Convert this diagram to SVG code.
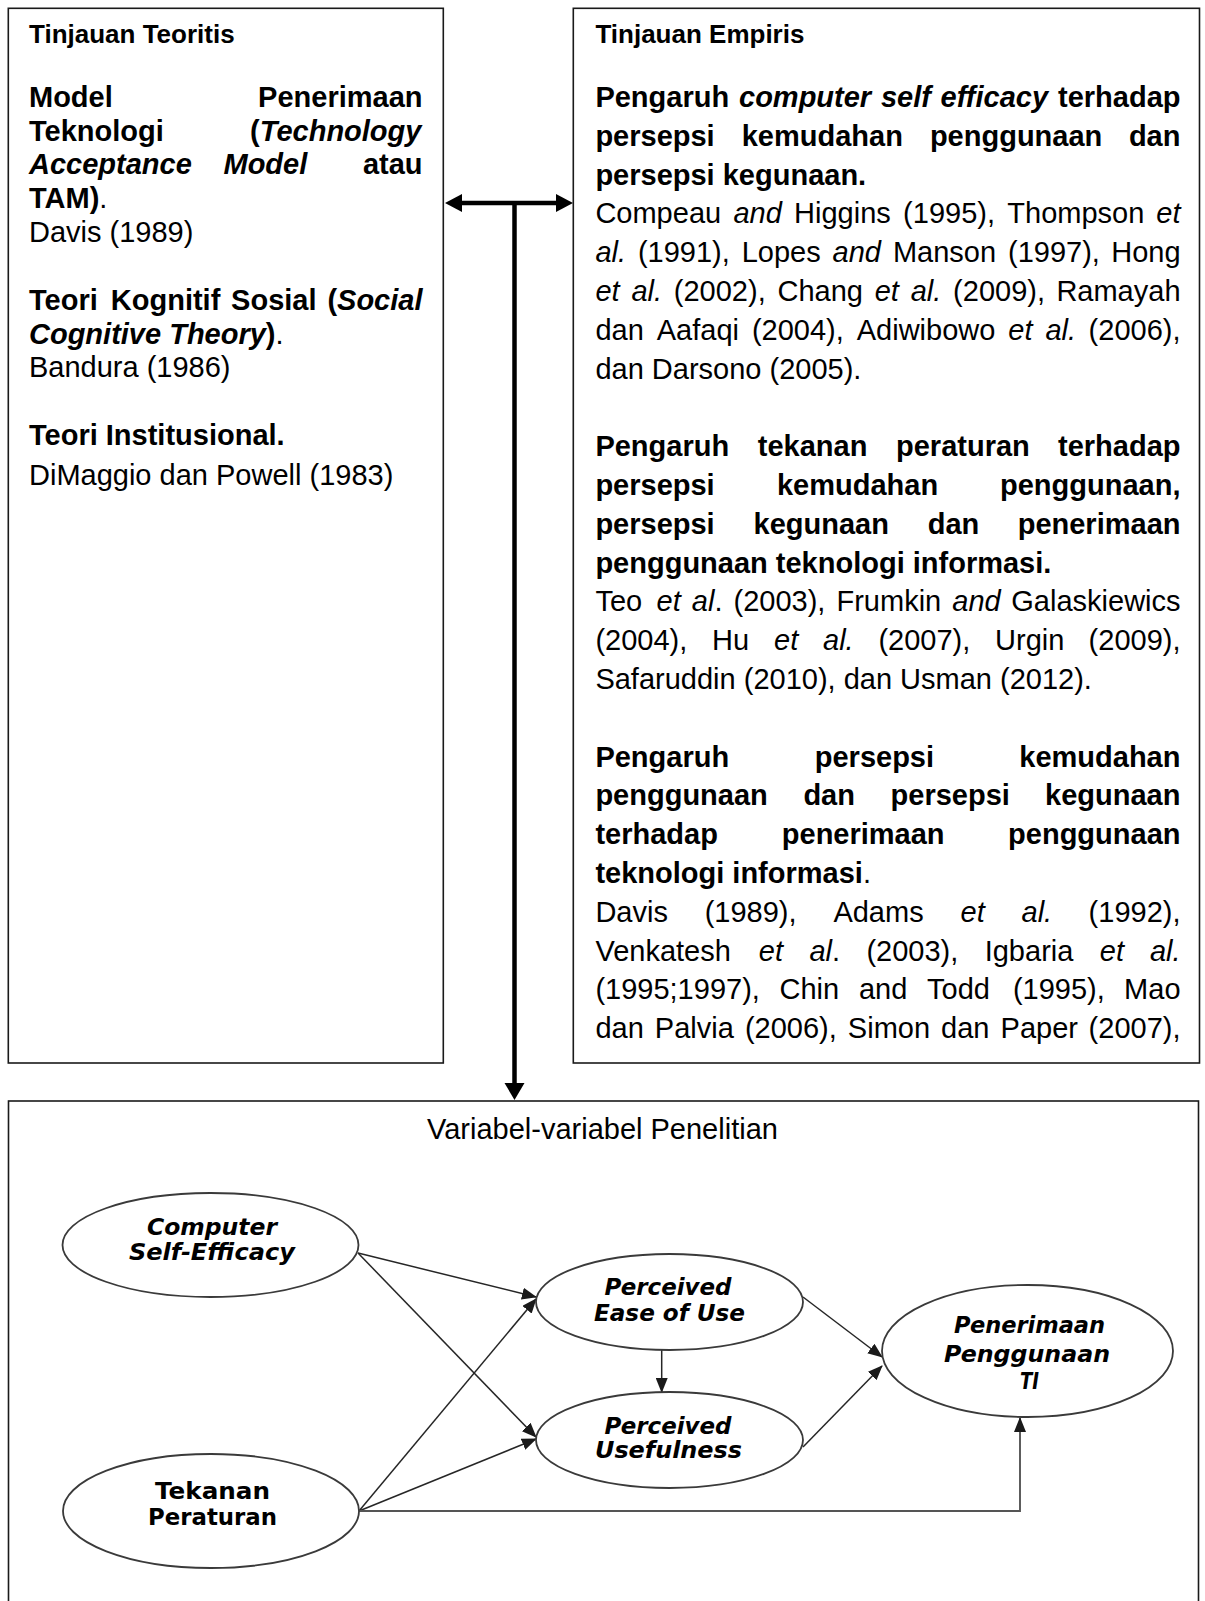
<svg xmlns="http://www.w3.org/2000/svg" width="1205" height="1601" viewBox="0 0 1205 1601">
<style>
.box{fill:#fff;stroke:#1a1a1a;stroke-width:1.6}
.t{font-family:"Liberation Sans",Arial,sans-serif;font-weight:bold;font-size:26px;fill:#000}
.b{font-family:"Liberation Sans",Arial,sans-serif;font-weight:bold;font-size:29px;fill:#000}
.r{font-family:"Liberation Sans",Arial,sans-serif;font-weight:normal;font-size:29px;fill:#000}
.i{font-style:italic}
.n{font-weight:normal}
.ell{fill:#fff;stroke:#3a3a3a;stroke-width:1.8}
.el{font-family:"DejaVu Sans",Verdana,sans-serif;font-weight:bold;font-size:22.5px;fill:#000;text-anchor:middle}
.eo{font-style:oblique}
.cn{fill:none;stroke:#262626;stroke-width:1.5}
.thick{fill:none;stroke:#000;stroke-width:4.5}
</style>
<defs>
<marker id="ah" markerUnits="userSpaceOnUse" markerWidth="15" markerHeight="12" refX="14" refY="6" orient="auto">
<path d="M0,0 L15,6 L0,12 z" fill="#1a1a1a"/>
</marker>
</defs>
<rect x="0" y="0" width="1205" height="1601" fill="#fff"/>

<g id="tinjauan-teoritis">
<rect class="box" x="8.3" y="8.3" width="435" height="1054.7"/>
<text class="t" x="29" y="42.7">Tinjauan Teoritis</text>
<text class="b" y="107"><tspan x="29">Model</tspan><tspan x="258.1">Penerimaan</tspan></text>
<text class="b" y="140.7"><tspan x="29">Teknologi</tspan><tspan x="250.1">(<tspan class="i">Technology</tspan></tspan></text>
<text class="b" y="174.4"><tspan x="29" class="i">Acceptance</tspan><tspan x="223.5" class="i">Model</tspan><tspan x="362.9">atau</tspan></text>
<text class="b" x="29" y="208.1">TAM)<tspan class="n">.</tspan></text>
<text class="r" x="29" y="241.8">Davis (1989)</text>
<text class="b" y="310"><tspan x="29">Teori</tspan><tspan x="110.8">Kognitif</tspan><tspan x="231.1">Sosial</tspan><tspan x="327.4">(<tspan class="i">Social</tspan></tspan></text>
<text class="b" x="29" y="343.7"><tspan class="i">Cognitive Theory</tspan>)<tspan class="n">.</tspan></text>
<text class="r" x="29" y="377.4">Bandura (1986)</text>
<text class="b" x="29" y="445">Teori Institusional.</text>
<text class="r" x="29" y="484.5">DiMaggio dan Powell (1983)</text>
</g>

<g id="tinjauan-empiris">
<rect class="box" x="573.3" y="8.3" width="626.2" height="1054.7"/>
<text class="t" x="595.4" y="42.7">Tinjauan Empiris</text>
<text class="b" y="107"><tspan x="595.4">Pengaruh</tspan><tspan x="739" class="i">computer</tspan><tspan x="880.9" class="i">self</tspan><tspan x="940.6" class="i">efficacy</tspan><tspan x="1058">terhadap</tspan></text>
<text class="b" y="145.8"><tspan x="595.4">persepsi</tspan><tspan x="741.7">kemudahan</tspan><tspan x="929.9">penggunaan</tspan><tspan x="1128.9">dan</tspan></text>
<text class="b" x="595.4" y="184.6">persepsi kegunaan.</text>
<text class="r" y="223.4"><tspan x="595.4">Compeau</tspan><tspan x="733.4" class="i">and</tspan><tspan x="794.1">Higgins</tspan><tspan x="903.1">(1995),</tspan><tspan x="1007.3">Thompson</tspan><tspan x="1156.3" class="i">et</tspan></text>
<text class="r" y="262.2"><tspan x="595.4" class="i">al.</tspan><tspan x="637.9">(1991),</tspan><tspan x="741.7">Lopes</tspan><tspan x="832.6" class="i">and</tspan><tspan x="892.9">Manson</tspan><tspan x="1008">(1997),</tspan><tspan x="1111.2">Hong</tspan></text>
<text class="r" y="301"><tspan x="595.4" class="i">et</tspan><tspan x="631.4" class="i">al.</tspan><tspan x="673.8">(2002),</tspan><tspan x="777.5">Chang</tspan><tspan x="874.7" class="i">et</tspan><tspan x="910.7" class="i">al.</tspan><tspan x="953.1">(2009),</tspan><tspan x="1056.4">Ramayah</tspan></text>
<text class="r" y="339.8"><tspan x="595.4">dan</tspan><tspan x="656.75">Aafaqi</tspan><tspan x="751.9">(2004),</tspan><tspan x="856.75">Adiwibowo</tspan><tspan x="1008.3" class="i">et</tspan><tspan x="1045.45" class="i">al.</tspan><tspan x="1088.6">(2006),</tspan></text>
<text class="r" x="595.4" y="378.6">dan Darsono (2005).</text>

<text class="b" y="456.2"><tspan x="595.4">Pengaruh</tspan><tspan x="757.8">tekanan</tspan><tspan x="896">peraturan</tspan><tspan x="1058">terhadap</tspan></text>
<text class="b" y="495"><tspan x="595.4">persepsi</tspan><tspan x="776.95">kemudahan</tspan><tspan x="1000">penggunaan,</tspan></text>
<text class="b" y="533.8"><tspan x="595.4">persepsi</tspan><tspan x="753.5">kegunaan</tspan><tspan x="927.7">dan</tspan><tspan x="1017.7">penerimaan</tspan></text>
<text class="b" x="595.4" y="572.6">penggunaan teknologi informasi.</text>
<text class="r" y="611.4"><tspan x="595.4">Teo</tspan><tspan x="656.5" class="i">et</tspan><tspan x="691.8" class="i">al</tspan>.<tspan x="733.5">(2003),</tspan><tspan x="836.5">Frumkin</tspan><tspan x="952.3" class="i">and</tspan><tspan x="1011.3">Galaskiewics</tspan></text>
<text class="r" y="650.2"><tspan x="595.4">(2004),</tspan><tspan x="712.1">Hu</tspan><tspan x="774" class="i">et</tspan><tspan x="823" class="i">al.</tspan><tspan x="878.4">(2007),</tspan><tspan x="995.1">Urgin</tspan><tspan x="1088.6">(2009),</tspan></text>
<text class="r" x="595.4" y="689">Safaruddin (2010), dan Usman (2012).</text>

<text class="b" y="766.6"><tspan x="595.4">Pengaruh</tspan><tspan x="814.75">persepsi</tspan><tspan x="1019.3">kemudahan</tspan></text>
<text class="b" y="805.4"><tspan x="595.4">penggunaan</tspan><tspan x="803.4">dan</tspan><tspan x="890.6">persepsi</tspan><tspan x="1045.1">kegunaan</tspan></text>
<text class="b" y="844.2"><tspan x="595.4">terhadap</tspan><tspan x="781.8">penerimaan</tspan><tspan x="1008.1">penggunaan</tspan></text>
<text class="b" x="595.4" y="883">teknologi informasi<tspan class="n">.</tspan></text>
<text class="r" y="921.8"><tspan x="595.4">Davis</tspan><tspan x="704.7">(1989),</tspan><tspan x="833.4">Adams</tspan><tspan x="960.5" class="i">et</tspan><tspan x="1021.5" class="i">al.</tspan><tspan x="1088.6">(1992),</tspan></text>
<text class="r" y="960.6"><tspan x="595.4">Venkatesh</tspan><tspan x="758.8" class="i">et</tspan><tspan x="809.4" class="i">al</tspan>.<tspan x="866.4">(2003),</tspan><tspan x="984.7">Igbaria</tspan><tspan x="1099.75" class="i">et</tspan><tspan x="1149.9" class="i">al.</tspan></text>
<text class="r" y="999.4"><tspan x="595.4">(1995;1997),</tspan><tspan x="779.5">Chin</tspan><tspan x="858.9">and</tspan><tspan x="927">Todd</tspan><tspan x="1012.9">(1995),</tspan><tspan x="1124.1">Mao</tspan></text>
<text class="r" y="1038.2"><tspan x="595.4">dan</tspan><tspan x="654.85">Palvia</tspan><tspan x="744.9">(2006),</tspan><tspan x="847.85">Simon</tspan><tspan x="941.1">dan</tspan><tspan x="1000.55">Paper</tspan><tspan x="1088.6">(2007),</tspan></text>
</g>

<g id="variabel-penelitian">
<rect class="box" x="8.5" y="1101" width="1190" height="530"/>
<text class="r" x="427" y="1139">Variabel-variabel Penelitian</text>
</g>

<g id="connectors">
<line class="thick" x1="461" y1="203" x2="557" y2="203"/>
<polygon points="445,203 462,194 462,212" fill="#000"/>
<polygon points="573,203 556,194 556,212" fill="#000"/>
<line class="thick" x1="514.5" y1="201" x2="514.5" y2="1085"/>
<polygon points="504.5,1083 524.5,1083 514.5,1100" fill="#000"/>

<line class="cn" x1="358" y1="1253" x2="536" y2="1297" marker-end="url(#ah)"/>
<line class="cn" x1="358" y1="1253" x2="536" y2="1437" marker-end="url(#ah)"/>
<line class="cn" x1="359" y1="1511" x2="536" y2="1299" marker-end="url(#ah)"/>
<line class="cn" x1="359" y1="1511" x2="536" y2="1439" marker-end="url(#ah)"/>
<path class="cn" d="M359,1511 H1020 V1418" style="stroke:#555;stroke-width:1.9" marker-end="url(#ah)"/>
<line class="cn" x1="661.7" y1="1350" x2="661.7" y2="1392" marker-end="url(#ah)"/>
<line class="cn" x1="803" y1="1297" x2="882" y2="1357" marker-end="url(#ah)"/>
<line class="cn" x1="803" y1="1447" x2="882" y2="1366" marker-end="url(#ah)"/>
</g>

<g id="computer-self-efficacy">
<ellipse class="ell" cx="210.5" cy="1245" rx="148" ry="52"/>
<text class="el eo" x="212" y="1235" textLength="130" lengthAdjust="spacingAndGlyphs">Computer</text>
<text class="el eo" x="212" y="1260" textLength="166" lengthAdjust="spacingAndGlyphs">Self-Efficacy</text>
</g>

<g id="tekanan-peraturan">
<ellipse class="ell" cx="211" cy="1511" rx="148" ry="57"/>
<text class="el" x="212.5" y="1499" textLength="115" lengthAdjust="spacingAndGlyphs">Tekanan</text>
<text class="el" x="212.5" y="1525" textLength="129" lengthAdjust="spacingAndGlyphs">Peraturan</text>
</g>

<g id="perceived-ease-of-use">
<ellipse class="ell" cx="669.5" cy="1302" rx="133.5" ry="48"/>
<text class="el eo" x="668" y="1295" textLength="127" lengthAdjust="spacingAndGlyphs">Perceived</text>
<text class="el eo" x="669.5" y="1320.7" textLength="151" lengthAdjust="spacingAndGlyphs">Ease of Use</text>
</g>

<g id="perceived-usefulness">
<ellipse class="ell" cx="669.5" cy="1440" rx="133.5" ry="48"/>
<text class="el eo" x="668" y="1434" textLength="127" lengthAdjust="spacingAndGlyphs">Perceived</text>
<text class="el eo" x="668.5" y="1458" textLength="147" lengthAdjust="spacingAndGlyphs">Usefulness</text>
</g>

<g id="penerimaan-penggunaan-ti">
<ellipse class="ell" cx="1027.5" cy="1351" rx="145.5" ry="66"/>
<text class="el eo" x="1029.5" y="1333" textLength="151" lengthAdjust="spacingAndGlyphs">Penerimaan</text>
<text class="el eo" x="1027" y="1361.5" textLength="166" lengthAdjust="spacingAndGlyphs">Penggunaan</text>
<text class="el eo" x="1029.5" y="1389" textLength="19" lengthAdjust="spacingAndGlyphs">TI</text>
</g>
</svg>
